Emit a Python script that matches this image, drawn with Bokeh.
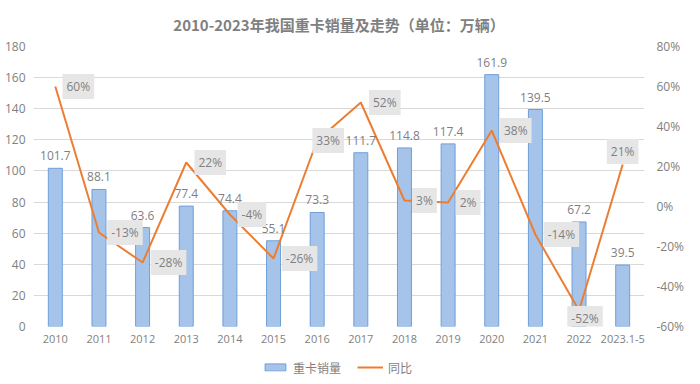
from bokeh.plotting import figure
from bokeh.layouts import column
from bokeh.models import (ColumnDataSource, Range1d, LinearAxis, FactorRange, Legend, LegendItem,
                          FixedTicker, CustomJSTickFormatter)
from bokeh.embed import file_html
from bokeh.resources import INLINE
from bokeh.core.properties import value

years = ["2010", "2011", "2012", "2013", "2014", "2015", "2016", "2017", "2018", "2019", "2020", "2021", "2022", "2023.1-5"]
sales = [101.7, 88.1, 63.6, 77.4, 74.4, 55.1, 73.3, 111.7, 114.8, 117.4, 161.9, 139.5, 67.2, 39.5]
yoy = [60, -13, -28, 22, -4, -26, 33, 52, 3, 2, 38, -14, -52, 21]
left_ticks = [0, 20, 40, 60, 80, 100, 120, 140, 160, 180]
right_ticks = [-60, -40, -20, 0, 20, 40, 60, 80]

# label placement offsets (screen px)
pct_dx = [23, 26, 26, 24, 22, 26, 11, 24, 20, 20, 24, 26, 6, 0]
pct_dy = [0, 0, 0, 0, 0, 0, 0, 0, 0, 0, 0, 0, 8, -13]

gray = "#7f7f7f"
font = "Open Sans"
bar_fill = "#a6c4ea"
bar_line = "#6d9fd8"
line_col = "#ed7d31"

src = ColumnDataSource(dict(
    x=years, sales=sales, sales_txt=[f"{v:.1f}" for v in sales],
    yoy=yoy, yoy_txt=[f"{v}%" for v in yoy], dx=pct_dx, dy=pct_dy,
))


def style_axis(ax, size, standoff):
    ax.axis_line_color = None
    ax.major_tick_line_color = None
    ax.minor_tick_line_color = None
    ax.major_tick_out = 0
    ax.major_tick_in = 0
    ax.minor_tick_out = 0
    ax.minor_tick_in = 0
    ax.major_label_text_color = gray
    ax.major_label_text_font = font
    ax.major_label_text_font_size = size
    ax.major_label_standoff = standoff


p = figure(frame_width=611, frame_height=280, x_range=FactorRange(*years), y_range=Range1d(0, 180),
           output_backend="svg", toolbar_location=None,
           min_border_left=33, min_border_right=0, min_border_top=10, min_border_bottom=33)
p.title.text = "2010-2023年我国重卡销量及走势（单位：万辆）"
p.title.align = "center"
p.title.text_font = "Noto Sans CJK SC"
p.title.text_font_size = "15px"
p.title.text_color = "#808080"
p.title.text_font_style = "bold"
p.title.standoff = 23

p.extra_y_ranges = {"pct": Range1d(-60, 80)}

p.outline_line_color = None
p.xgrid.grid_line_color = None

ya = p.yaxis[0]
ya.ticker = FixedTicker(ticks=left_ticks)
style_axis(ya, "12px", 8)
p.ygrid.ticker = ya.ticker
p.ygrid.grid_line_color = "#d9d9d9"

p.vbar(x="x", top="sales", width=0.32, source=src, fill_color=bar_fill,
       line_color=bar_line, line_width=1)
p.line(x="x", y="yoy", source=src, y_range_name="pct", line_color=line_col, line_width=2)

p.text(x="x", y="sales", text="sales_txt", source=src, text_align="center", text_baseline="bottom",
       y_offset=-8, text_font=value(font), text_font_size="12px", text_color=gray)
p.text(x="x", y="yoy", text="yoy_txt", source=src, y_range_name="pct", text_align="center",
       text_baseline="middle", x_offset="dx", y_offset="dy", text_font=value(font),
       text_font_size="12px", text_color=gray, background_fill_color="#e7e6e6", padding=4)

ra = LinearAxis(y_range_name="pct", ticker=FixedTicker(ticks=right_ticks))
ra.formatter = CustomJSTickFormatter(code="return tick + '%';")
style_axis(ra, "12px", 12)
p.add_layout(ra, "right")

style_axis(p.xaxis[0], "11px", 8)

# legend strip (proxy renderers drawn outside the visible range)
lf = figure(width=684, height=16, x_range=FactorRange(*years), y_range=Range1d(1000, 1001),
            output_backend="svg", toolbar_location=None,
            min_border_left=0, min_border_right=0, min_border_top=0, min_border_bottom=0)
lf.axis.visible = False
lf.grid.visible = False
lf.outline_line_color = None
rb = lf.vbar(x="x", top="sales", source=src, width=0.3, fill_color=bar_fill, line_color=bar_line)
rl = lf.line(x="x", y="yoy", source=src, line_color=line_col, line_width=2)
legend = Legend(items=[LegendItem(label="重卡销量", renderers=[rb]),
                       LegendItem(label="同比", renderers=[rl])],
                orientation="horizontal", location="center", border_line_color=None,
                label_text_font="Noto Sans CJK SC", label_text_font_size="12px",
                label_text_color=gray, glyph_width=26, glyph_height=9, label_height=14,
                label_standoff=5, spacing=16, margin=0, padding=0, background_fill_alpha=0)
lf.add_layout(legend)

open("out.html", "w").write(file_html(column(p, lf, spacing=0), INLINE))
